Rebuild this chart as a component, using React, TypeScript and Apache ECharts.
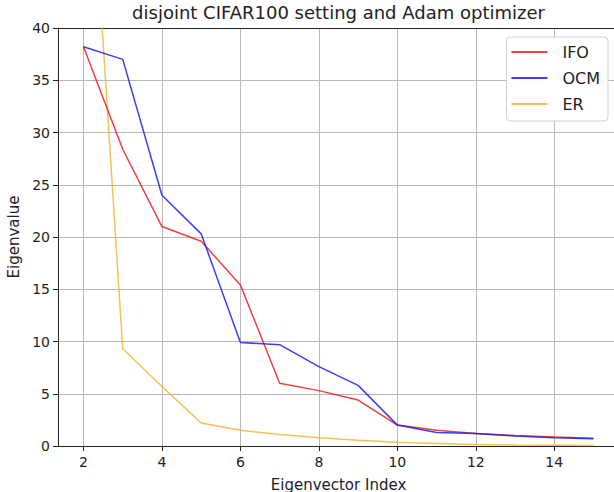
import React, { useEffect, useRef } from "react";
import * as echarts from "echarts";

const indices = [2, 3, 4, 5, 6, 7, 8, 9, 10, 11, 12, 13, 14, 15];
const ifo = [38.2, 28.4, 21.0, 19.6, 15.4, 6.0, 5.3, 4.4, 2.0, 1.5, 1.2, 1.0, 0.85, 0.75];
const ocm = [38.2, 37.0, 24.0, 20.3, 9.9, 9.7, 7.6, 5.8, 2.0, 1.3, 1.2, 0.95, 0.8, 0.7];
const er = [68, 9.3, 5.7, 2.2, 1.5, 1.1, 0.8, 0.55, 0.35, 0.25, 0.15, 0.1, 0.08, 0.05];
const xTicks = [2, 4, 6, 8, 10, 12, 14];

const pair = (vals: number[]) => indices.map((x, i) => [x, vals[i]]);

export default function App() {
  const ref = useRef<HTMLDivElement>(null);
  useEffect(() => {
    const chart = echarts.init(ref.current!, null, { renderer: "svg" });
    const font = "DejaVu Sans";
    const ink = "#222";
    chart.setOption({
      animation: false,
      textStyle: { fontFamily: font },
      graphic: [
        {
          type: "text",
          x: 338.5,
          y: 12,
          style: {
            text: "disjoint CIFAR100 setting and Adam optimizer",
            font: `18px '${font}'`,
            fill: ink,
            textAlign: "center",
            textVerticalAlign: "middle",
          },
        },
      ],
      legend: {
        right: 16,
        top: 37,
        orient: "vertical",
        backgroundColor: "#fff",
        borderColor: "#d0d0d0",
        borderWidth: 1,
        borderRadius: 4,
        padding: [7, 8, 9, 5],
        itemGap: 10,
        itemWidth: 36,
        itemHeight: 2,
        icon: "rect",
        textStyle: { fontSize: 16, color: ink, fontFamily: font, padding: [0, 0, 0, 10] },
        data: ["IFO", "OCM", "ER"],
      },
      grid: { left: 58, right: 5, top: 28, bottom: 46, containLabel: false, outerBoundsMode: "none" },
      xAxis: [
        {
          type: "value",
          min: 1.35,
          max: 15.65,
          name: "Eigenvector Index",
          nameLocation: "middle",
          nameGap: 31,
          nameTextStyle: { fontSize: 15, color: ink, fontFamily: font },
          axisLine: { show: true, lineStyle: { color: ink, width: 1 } },
          axisTick: { show: true, length: 5, customValues: xTicks, lineStyle: { color: ink } },
          axisLabel: { customValues: xTicks, fontSize: 14, color: ink, margin: 9, fontFamily: font },
          splitLine: { show: true, lineStyle: { color: "#b8b8b8", width: 1 } },
        },
        {
          type: "value",
          position: "top",
          min: 1.35,
          max: 15.65,
          axisLine: { show: true, onZero: false, lineStyle: { color: ink, width: 1 } },
          axisTick: { show: false },
          axisLabel: { show: false },
          splitLine: { show: false },
        },
      ],
      yAxis: {
        type: "value",
        min: 0,
        max: 40,
        interval: 5,
        name: "Eigenvalue",
        nameLocation: "middle",
        nameGap: 37,
        nameTextStyle: { fontSize: 15, color: ink, fontFamily: font },
        axisLine: { show: true, lineStyle: { color: ink, width: 1 } },
        axisTick: { show: true, length: 5, lineStyle: { color: ink } },
        axisLabel: { fontSize: 14, color: ink, margin: 8, fontFamily: font },
        splitLine: { show: true, lineStyle: { color: "#b8b8b8", width: 1 } },
      },
      series: [
        {
          name: "IFO",
          type: "line",
          data: pair(ifo),
          symbol: "none",
          lineStyle: { color: "rgba(235,30,30,0.85)", width: 1.5 },
          itemStyle: { color: "rgba(235,30,30,0.85)" },
          z: 3,
        },
        {
          name: "OCM",
          type: "line",
          data: pair(ocm),
          symbol: "none",
          lineStyle: { color: "rgba(30,30,230,0.85)", width: 1.5 },
          itemStyle: { color: "rgba(30,30,230,0.85)" },
          z: 4,
        },
        {
          name: "ER",
          type: "line",
          data: pair(er),
          symbol: "none",
          lineStyle: { color: "rgba(245,170,30,0.75)", width: 1.5 },
          itemStyle: { color: "rgba(245,170,30,0.75)" },
          z: 2,
        },
      ],
    });
    return () => chart.dispose();
  }, []);
  return (
    <div style={{ position: "absolute", left: 0, top: 0, width: 614, height: 492, overflow: "hidden" }}>
      <div ref={ref} style={{ width: 624, height: 492 }} />
    </div>
  );
}
